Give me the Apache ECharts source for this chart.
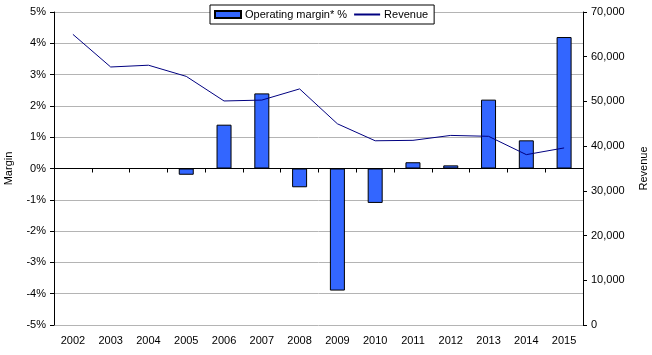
<!DOCTYPE html>
<html><head><meta charset="utf-8">
<script src="https://cdn.jsdelivr.net/npm/echarts@6/dist/echarts.min.js"></script>
<style>html,body{margin:0;padding:0;background:#fff}#c{width:652px;height:355px}</style>
</head><body><div id="c"></div>
<script>
const years = ['2002','2003','2004','2005','2006','2007','2008','2009','2010','2011','2012','2013','2014','2015'];
const margin = [0, 0, 0, -0.2, 1.4, 2.4, -0.6, -3.9, -1.1, 0.2, 0.1, 2.2, 0.9, 4.2];
const revenue = [65000, 57700, 58100, 55600, 50100, 50300, 52800, 45000, 41200, 41300, 42400, 42200, 38100, 39600];
const marginTicks = {min: -5, max: 5, interval: 1};
const revenueTicks = {min: 0, max: 70000, interval: 10000};

const font = 'Liberation Sans, Arial, sans-serif';
const chart = echarts.init(document.getElementById('c'));
chart.setOption({
  animation: false,
  textStyle: {fontFamily: font},
  grid: {left: 54, right: 69, top: 12, bottom: 30, show: false, containLabel: false, outerBoundsMode: 'none'},
  legend: {
    left: 210, top: 5, padding: [4, 6, 4, 4],
    borderColor: '#000', borderWidth: 1, backgroundColor: '#fff',
    itemWidth: 26, itemHeight: 7, itemGap: 6,
    textStyle: {fontFamily: font, fontSize: 11, color: '#000', padding: [0, 0, 0, -1]},
    data: [
      {name: 'Operating margin* %', icon: 'rect'},
      {name: 'Revenue', itemStyle: {color: 'rgba(0,0,0,0)', borderWidth: 0, borderColor: 'rgba(0,0,0,0)'}}
    ]
  },
  xAxis: [
    {type: 'category', data: years, position: 'bottom',
     axisLine: {onZero: true, onZeroAxisIndex: 0, lineStyle: {color: '#000', width: 1}},
     axisTick: {show: true, length: 4, lineStyle: {color: '#000'}},
     axisLabel: {show: false}, splitLine: {show: false}},
    {type: 'category', data: years, position: 'bottom',
     axisLine: {show: false}, axisTick: {show: false},
     axisLabel: {show: true, color: '#000', fontSize: 11, margin: 10, fontFamily: font}}
  ],
  yAxis: [
    {type: 'value', min: marginTicks.min, max: marginTicks.max, interval: marginTicks.interval,
     position: 'left', name: 'Margin', nameLocation: 'middle', nameRotate: 90, nameGap: 40,
     nameTextStyle: {color: '#000', fontSize: 11, fontFamily: font},
     axisLine: {show: true, lineStyle: {color: '#000'}},
     axisTick: {show: true, length: 4, lineStyle: {color: '#000'}},
     axisLabel: {color: '#000', fontSize: 11, margin: 8, formatter: '{value}%', fontFamily: font},
     splitLine: {show: true, lineStyle: {color: '#b4b4b4', width: 1}}},
    {type: 'value', min: revenueTicks.min, max: revenueTicks.max, interval: revenueTicks.interval,
     position: 'right', name: 'Revenue', nameLocation: 'middle', nameRotate: 90, nameGap: 55,
     nameTextStyle: {color: '#000', fontSize: 11, fontFamily: font},
     axisLine: {show: true, lineStyle: {color: '#000'}},
     axisTick: {show: true, length: 4, lineStyle: {color: '#000'}},
     axisLabel: {color: '#000', fontSize: 11, margin: 8, fontFamily: font,
       formatter: v => v.toLocaleString('en-US')},
     splitLine: {show: false}}
  ],
  series: [
    {name: 'Operating margin* %', type: 'bar', data: margin, xAxisIndex: 0, yAxisIndex: 0,
     barWidth: 15, itemStyle: {color: '#3366ff', borderColor: '#000', borderWidth: 1}},
    {name: 'Revenue', type: 'line', data: revenue, xAxisIndex: 0, yAxisIndex: 1,
     symbol: 'none', lineStyle: {color: '#000080', width: 1}, itemStyle: {color: '#000080'}}
  ]
});
</script></body></html>
